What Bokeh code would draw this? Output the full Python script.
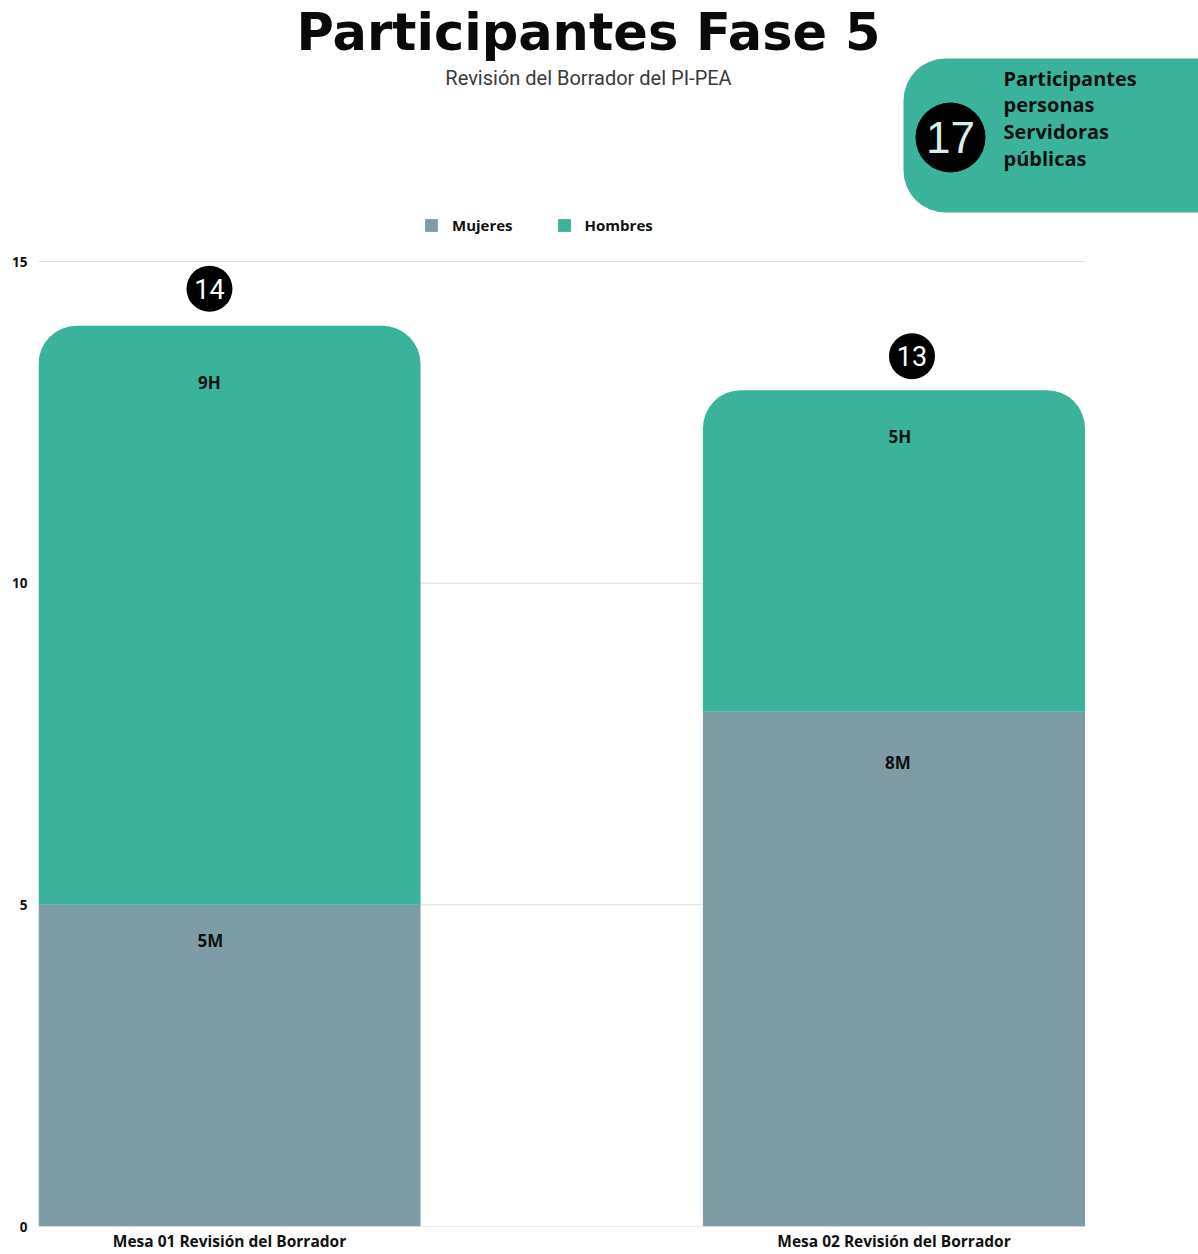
from bokeh.plotting import figure
from bokeh.models import Range1d, FixedTicker, Label, BoxAnnotation, ColumnDataSource
from bokeh.transform import stack
from bokeh.core.properties import value
from bokeh.embed import file_html
from bokeh.resources import INLINE

# ---------------- data ----------------
categories = ["Mesa 01 Revisión del Borrador", "Mesa 02 Revisión del Borrador"]
series_names = ["Mujeres", "Hombres"]
mujeres = [5, 8]
hombres = [9, 5]
mujeres_labels = ["5M", "8M"]
hombres_labels = ["9H", "5H"]
y_ticks = [0, 5, 10, 15]
total_servidoras = 17
title_text = "Participantes Fase 5"
subtitle_text = "Revisión del Borrador del PI-PEA"
badge_lines = ["Participantes", "personas", "Servidoras", "públicas"]

# ---------------- styles ----------------
C_M = "#7D9CA5"
C_H = "#3AB39A"
GRID = "#dedede"
W, H = 1198, 1254
BL, BB = 38, 28
FW, FH = W - BL, H - BB
SX = 664.5          # px per x unit
SY = 64.333         # px per y unit
X0 = -0.2874
X1 = X0 + FW / SX
Y0 = 0.0
Y1 = FH / SY
BAR_W = 0.575


def X(px):
    return X0 + (px - BL) / SX


def Y(py):
    return Y1 - py / SY


xs = list(range(len(categories)))
totals = [m + h for m, h in zip(mujeres, hombres)]
# pixel offsets for labels (style)
m_dx, m_dy = [-19, 4], [36, 51]
h_dx, h_dy = [-20, 6], [57, 46]
t_dx, t_dy = [-20, 18], [-37, -34]

src = ColumnDataSource(dict(
    x=xs, Mujeres=mujeres, Hombres=hombres,
    ml=mujeres_labels, hl=hombres_labels,
    mdx=m_dx, mdy=m_dy, hdx=h_dx, hdy=h_dy,
    tx=[x + d / SX for x, d in zip(xs, t_dx)],
    ty=[t - d / SY for t, d in zip(totals, t_dy)],
    tl=[str(t) for t in totals],
))

p = figure(width=W, height=H, x_range=Range1d(X0, X1), y_range=Range1d(Y0, Y1),
           min_border_left=BL, min_border_right=0, min_border_top=0, min_border_bottom=BB,
           output_backend="svg", toolbar_location=None)
p.outline_line_color = None
p.xgrid.visible = False
p.ygrid.visible = False
p.background_fill_color = "white"
p.border_fill_color = "white"

# grid lines spanning the bars
gx0 = xs[0] - BAR_W / 2
gx1 = xs[-1] + BAR_W / 2
p.segment(x0=[gx0] * len(y_ticks), x1=[gx1] * len(y_ticks), y0=y_ticks, y1=y_ticks,
          line_color=GRID, line_width=1)

p.vbar(x="x", width=BAR_W, bottom=0, top=stack("Mujeres"), source=src,
       fill_color=C_M, line_color=None, legend_label=series_names[0])
p.vbar(x="x", width=BAR_W, bottom=stack("Mujeres"), top=stack("Mujeres", "Hombres"), source=src,
       fill_color=C_H, line_color=None, border_radius=(38, 38, 0, 0), legend_label=series_names[1])

seg_font = dict(text_font=value("Open Sans"), text_font_style="bold", text_font_size="17px",
                text_color="#111111", text_align="center", text_baseline="middle")
p.text(x="x", y=stack("Mujeres"), text="ml", x_offset="mdx", y_offset="mdy", source=src, **seg_font)
p.text(x="x", y=stack("Mujeres", "Hombres"), text="hl", x_offset="hdx", y_offset="hdy", source=src, **seg_font)

p.scatter(x="tx", y="ty", source=src, marker="circle", size=46, fill_color="black", line_color=None)
p.text(x="tx", y="ty", text="tl", source=src, text_font=value("Roboto"), text_font_size="27px",
       text_color="white", text_align="center", text_baseline="middle")

# axes
p.yaxis.ticker = FixedTicker(ticks=y_ticks)
p.xaxis.ticker = FixedTicker(ticks=xs)
p.xaxis.major_label_overrides = {x: c for x, c in zip(xs, categories)}
for ax in (p.xaxis[0], p.yaxis[0]):
    ax.axis_line_color = None
    ax.major_tick_line_color = None
    ax.minor_tick_line_color = None
    ax.major_tick_out = 0
    ax.major_tick_in = 0
    ax.major_label_text_font = "Open Sans"
    ax.major_label_text_font_style = "bold"
    ax.major_label_text_color = "#111111"
p.yaxis.major_label_text_font_size = "13.5px"
p.yaxis.major_label_standoff = 11
p.xaxis.major_label_text_font_size = "15.5px"
p.xaxis.major_label_standoff = 3

# legend
lg = p.legend[0]
lg.orientation = "horizontal"
lg.location = (385, 991)
lg.glyph_width = 16
lg.glyph_height = 16
lg.label_standoff = 13
lg.spacing = 43
lg.padding = 0
lg.margin = 0
lg.border_line_color = None
lg.background_fill_alpha = 0
lg.label_text_font = "Open Sans"
lg.label_text_font_style = "bold"
lg.label_text_font_size = "15px"
lg.label_text_color = "#111111"

# title & subtitle
p.add_layout(Label(x=X(588), y=Y(32), text=title_text, text_align="center", text_baseline="middle",
                   text_font="DejaVu Sans", text_font_style="bold", text_font_size="51px",
                   text_color="#0a0a0a"))
p.add_layout(Label(x=X(588), y=Y(77), text=subtitle_text, text_align="center", text_baseline="middle",
                   text_font="Roboto", text_font_size="20px", text_color="#3a3a3a"))

# badge
p.add_layout(BoxAnnotation(left=X(903), right=X1, top=Y(58), bottom=Y(212), fill_color=C_H,
                           fill_alpha=1, line_color=None, border_radius=(42, 0, 0, 42)))
p.add_layout(BoxAnnotation(left=X(915), right=X(985), top=Y(102), bottom=Y(172), fill_color="black",
                           fill_alpha=1, line_color=None, border_radius=35))
p.add_layout(Label(x=X(950), y=Y(137), text=str(total_servidoras), text_align="center",
                   text_baseline="middle", text_font="Liberation Sans", text_font_size="44px",
                   text_color="#d5f0e8"))
for i, line in enumerate(badge_lines):
    p.add_layout(Label(x=X(1003), y=Y(77.6 + i * 26.7), text=line, text_baseline="middle",
                       text_font="Open Sans", text_font_style="bold", text_font_size="20px",
                       text_color="#111111"))

open("out.html", "w").write(file_html(p, INLINE))
